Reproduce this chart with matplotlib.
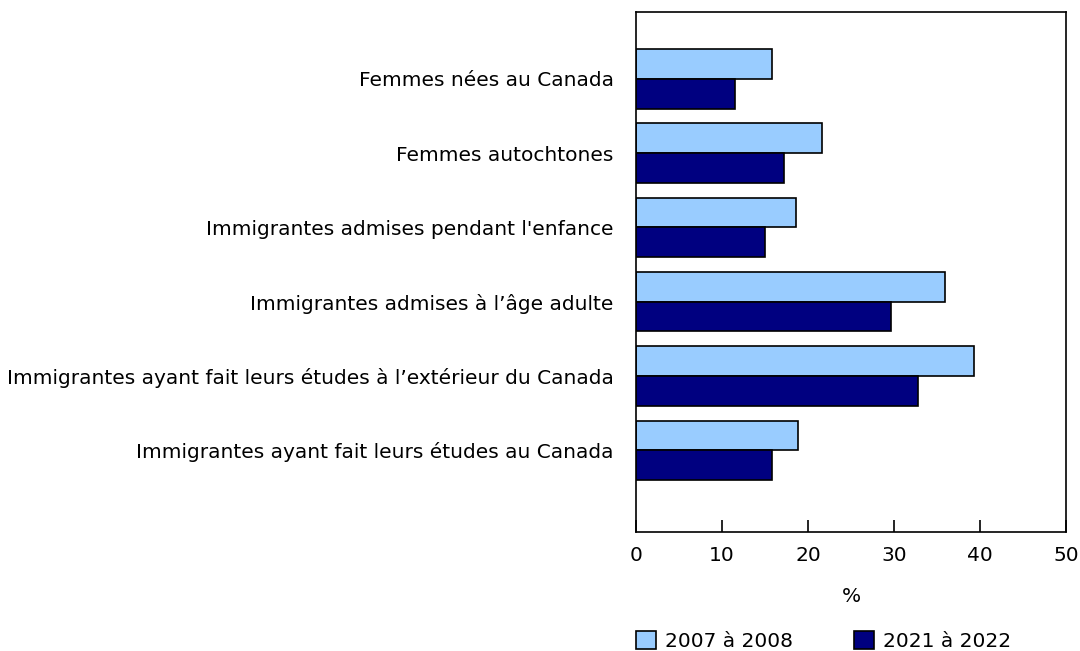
import matplotlib
matplotlib.use("Agg")
import matplotlib.pyplot as plt
import numpy as np

categories = ["Femmes nées au Canada",
              "Femmes autochtones",
              "Immigrantes admises pendant l'enfance",
              "Immigrantes admises à l’âge adulte",
              "Immigrantes ayant fait leurs études à l’extérieur du Canada",
              "Immigrantes ayant fait leurs études au Canada"]
val_2007 = [15.8, 21.6, 18.6, 35.9, 39.3, 18.8]
val_2021 = [11.5, 17.2, 15.0, 29.6, 32.8, 15.8]
series_names = ["2007 à 2008", "2021 à 2022"]

plt.rcParams['font.family'] = ['DejaVu Sans']
fs = 14.5

fig = plt.figure(figsize=(10.8, 6.51), dpi=100)
ax = fig.add_axes([636/1080, 1-532/651, 430/1080, 520/651])

y = np.arange(len(categories))
h = 0.4
b1 = ax.barh(y - h/2, val_2007, height=h, color='#99ccff', edgecolor='black', linewidth=1.2)
b2 = ax.barh(y + h/2, val_2021, height=h, color='#000080', edgecolor='black', linewidth=1.2)

ax.set_ylim(6.1, -0.9)
ax.set_xlim(0, 50)
ax.set_xticks([0, 10, 20, 30, 40, 50])
ax.set_yticks(y)
ax.set_yticklabels(categories, fontsize=fs)
ax.tick_params(axis='y', length=0, pad=16)
ax.tick_params(axis='x', direction='in', length=9, width=1.2, labelsize=fs, pad=10)
for s in ax.spines.values():
    s.set_linewidth(1.2)
ax.set_xlabel('%', fontsize=fs, labelpad=16)

fig.legend([b1, b2], series_names, loc='center left', bbox_to_anchor=(636/1080, 1-641/651),
           ncol=2, frameon=False, fontsize=fs, handlelength=1.0, handleheight=1.0,
           columnspacing=3.0, handletextpad=0.45, borderpad=0, borderaxespad=0)

fig.savefig('out.png', dpi=100)
